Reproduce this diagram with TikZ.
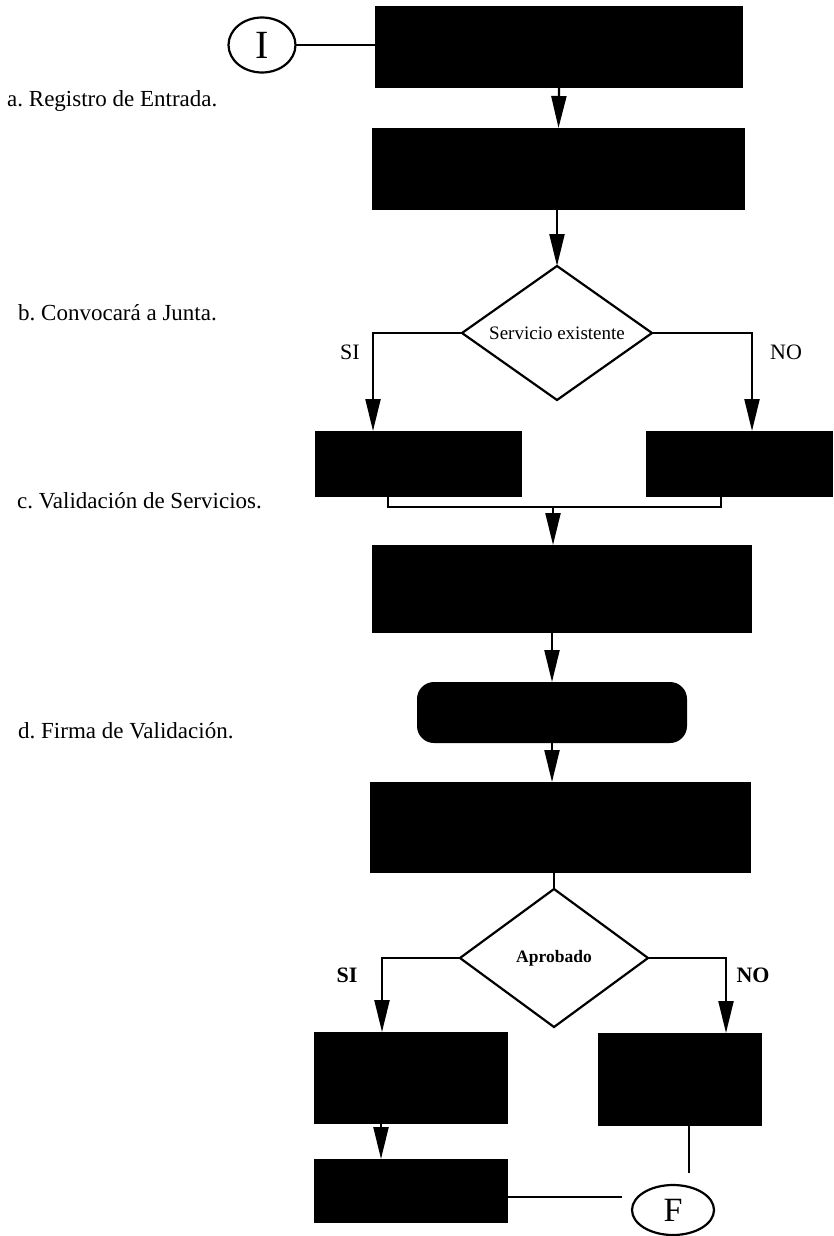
\documentclass[tikz,border=0pt]{standalone}
\usepackage{fontspec}
\setmainfont{Liberation Serif}
\usetikzlibrary{arrows.meta,shapes.geometric,calc}
\frenchspacing
\begin{document}
\begin{tikzpicture}[x=1pt,y=-1pt,
  blk/.style={fill=black,draw=none,inner sep=0pt,outer sep=0pt},
  conn/.style={line width=2.2pt},
  arr/.style={conn,-{Triangle[length=32pt,width=15pt]}},
  dec/.style={diamond,draw,line width=2.2pt,inner sep=0pt,outer sep=0pt,aspect=1.42},
  term/.style={ellipse,draw,line width=2.2pt,inner sep=0pt,outer sep=0pt},
  lbl/.style={font=\fontsize{23}{26}\selectfont,anchor=base west,inner sep=0pt},
  ans/.style={font=\fontsize{22}{24}\selectfont,inner sep=0pt},
  ansb/.style={font=\fontsize{22}{24}\selectfont\bfseries,inner sep=0pt},
]
\useasboundingbox (0,0) rectangle (833,1236);

% side captions
\node[lbl] (la) at (7,107) {a. Registro de Entrada.};
\node[lbl] (lb) at (18,320) {b. Convocará a Junta.};
\node[lbl] (lc) at (17,508) {c. Validación de Servicios.};
\node[lbl] (ld) at (18,738) {d. Firma de Validación.};

% terminals
\node[term,minimum width=67pt,minimum height=55pt,font=\fontsize{40}{42}\selectfont] (ini) at (262,45) {I};
\node[term,minimum width=82pt,minimum height=50pt,font=\fontsize{34}{36}\selectfont] (fin) at (673,1210) {F};

% process boxes
\node[blk,minimum width=368pt,minimum height=82pt] (b1) at (559,47) {};
\node[blk,minimum width=373pt,minimum height=82pt] (b2) at (558.5,169) {};
\node[blk,minimum width=207pt,minimum height=66pt] (b3l) at (418.5,464) {};
\node[blk,minimum width=187pt,minimum height=66pt] (b3r) at (739.5,464) {};
\node[blk,minimum width=380pt,minimum height=88pt] (b4) at (562,589) {};
\node[blk,rounded corners=17pt,minimum width=270pt,minimum height=61pt] (rnd) at (552,712.5) {};
\node[blk,minimum width=381pt,minimum height=91pt] (b5) at (560.5,827.5) {};
\node[blk,minimum width=194pt,minimum height=92pt] (b6) at (411,1078) {};
\node[blk,minimum width=164pt,minimum height=93pt] (b7) at (680,1079.5) {};
\node[blk,minimum width=194pt,minimum height=64pt] (b8) at (411,1191) {};

% decisions
\node[dec,minimum width=190pt,minimum height=134pt,font=\fontsize{19}{21}\selectfont] (d1) at (557,333) {Servicio existente};
\node[dec,minimum width=188pt,minimum height=138pt,font=\fontsize{17.5}{19}\selectfont\bfseries] (d2) at (554,958) {Aprobado};

% branch labels
\node[ans] (si1) at (350,352) {SI};
\node[ans] (no1) at (786,352) {NO};
\node[ansb] (si2) at (347,975) {SI};
\node[ansb] (no2) at (753,975) {NO};

% connectors
\draw[conn] (ini.east) -- (ini.east -| b1.west);
\draw[arr] (b1.south) -- (b2.north);
\draw[arr] (b2.south -| d1.north) -- (d1.north);
\draw[arr] (d1.west) -| ([xshift=58pt]b3l.north west);
\draw[arr] (d1.east) -| ([xshift=106pt]b3r.north west);
\draw[conn] ([xshift=73pt]b3l.south west) -- ++(0,10) -| ([xshift=75pt]b3r.south west);
\coordinate (jn) at (553,507);
\draw[arr] (jn) -- (jn |- b4.north);
\draw[arr] (rnd.north |- b4.south) -- (rnd.north);
\draw[arr] (rnd.south) -- (rnd.south |- b5.north);
\draw[conn] (d2.north |- b5.south) -- (d2.north);
\draw[arr] (d2.west) -| ([xshift=68pt]b6.north west);
\draw[arr] (d2.east) -| ([xshift=128pt]b7.north west);
\draw[arr] ([xshift=67pt]b6.south west) -- ([xshift=67pt]b8.north west);
\coordinate (fl) at (622,1197);
\draw[conn] ([yshift=-6pt]b8.east) -- (fl);
\coordinate (ft) at (689,1173);
\draw[conn] ([xshift=91pt]b7.south west) -- (ft);
\end{tikzpicture}
\end{document}
